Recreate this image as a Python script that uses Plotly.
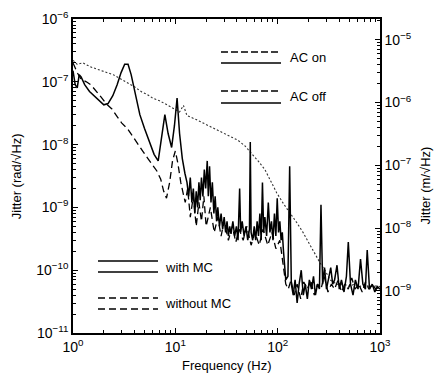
import plotly.graph_objects as go

# ---------------- data ----------------
# dotted curve (highest, smooth decline)
f_dot = [1.0, 1.1, 1.25, 1.47, 1.7, 2.0, 2.46, 2.9, 3.45, 4.0, 4.7, 5.3, 6.0, 7.0, 8.3, 9.5,
         11, 12, 13, 16, 20, 26, 33, 41, 48, 55, 65, 75, 86, 98, 115, 135, 155, 177, 200, 220,
         240, 260, 290, 325, 360, 400, 450, 500, 560, 630, 700, 800, 900, 1000]
j_dot = [2.2e-7, 1.9e-7, 2.0e-7, 1.74e-7, 1.6e-7, 1.45e-7, 1.3e-7, 1.12e-7, 9.5e-8, 8.3e-8, 6.9e-8,
         6.3e-8, 5.5e-8, 5.0e-8, 4.3e-8, 3.8e-8, 3.3e-8, 4.2e-8, 2.9e-8, 2.5e-8, 2.1e-8, 1.7e-8,
         1.4e-8, 1.17e-8, 9.5e-9, 7.4e-9, 5.4e-9, 4.0e-9, 2.6e-9, 1.7e-9, 1.12e-9, 7.9e-10, 5.6e-10,
         4.0e-10, 2.8e-10, 2.1e-10, 1.6e-10, 1.3e-10, 1.0e-10, 7e-11, 6.3e-11, 5.8e-11, 6e-11,
         5.5e-11, 6e-11, 5.5e-11, 5.8e-11, 5.5e-11, 5.6e-11, 5.5e-11]

# dashed curve
f_dash = [1.0, 1.1, 1.2, 1.35, 1.5, 1.7, 1.9, 2.1, 2.4, 2.7, 3.0, 3.4, 3.8, 4.3, 4.8, 5.4, 6.0,
          6.6, 7.2, 7.7, 8.2, 8.8, 9.4, 10.0, 10.6, 11.3, 12.0, 12.5, 13.2, 14, 15, 16, 17, 18,
          19, 20, 22, 24, 26, 28, 30, 33, 36, 39, 42, 46, 50, 55, 60, 66, 72, 80, 88, 96, 105,
          112, 120, 127, 135, 145, 155, 168, 180, 195, 210, 228, 245, 265, 285, 310, 335, 360,
          390, 420, 455, 490, 530, 570, 620, 670, 720, 780, 840, 910, 1000]
j_dash = [2.0e-7, 1.4e-7, 1.1e-7, 1.0e-7, 8.9e-8, 7.1e-8, 5.6e-8, 4.5e-8, 3.7e-8, 2.8e-8, 2.2e-8,
          1.8e-8, 1.4e-8, 1.05e-8, 7.9e-9, 6.0e-9, 4.8e-9, 3.8e-9, 2.8e-9, 1.8e-9, 1.4e-9, 2.5e-9,
          5.6e-9, 7.9e-9, 5.0e-9, 2.5e-9, 1.6e-9, 1.2e-9, 2.0e-9, 7e-10, 1.5e-9, 5e-10, 1.2e-9,
          6e-10, 1.5e-9, 5e-10, 1.0e-9, 4e-10, 7e-10, 3.5e-10, 6e-10, 3e-10, 5e-10, 2.8e-10,
          4.5e-10, 3e-10, 5e-10, 2.5e-10, 4e-10, 2.5e-10, 4.5e-10, 2.5e-10, 4e-10, 2.2e-10, 3e-10,
          1.5e-10, 6e-11, 5e-11, 7e-11, 4e-11, 6e-11, 3.5e-11, 6.5e-11, 5e-11, 7e-11, 4e-11,
          6e-11, 5e-11, 8e-11, 4.5e-11, 6e-11, 5e-11, 7e-11, 4.5e-11, 6e-11, 5e-11, 7.5e-11,
          5e-11, 6e-11, 4.5e-11, 6.5e-11, 5e-11, 6e-11, 5e-11, 5.5e-11]

# solid curve (with resonance peaks and noisy high-frequency part)
f_sol = [1.0, 1.05, 1.1, 1.15, 1.2, 1.3, 1.45, 1.6, 1.8, 2.0, 2.2, 2.45, 2.7, 2.95, 3.2, 3.45,
         3.7, 4.1, 4.5, 5.0, 5.6, 6.2, 6.8, 7.3, 7.9, 8.5, 9.2, 9.8, 10.4, 11.0, 11.7, 12.4,
         13, 13.5, 14, 14.5, 15, 15.5, 16, 16.5, 17, 17.5, 18, 18.6, 19.2, 19.8, 20.5, 21,
         21.6, 22.3, 23, 23.8, 24.5, 25.3, 26, 27, 28, 29, 30, 31, 32, 33, 34, 35, 36.5, 38,
         39.5, 41, 42.5, 43.5, 45, 47, 49, 51, 53, 54, 55, 57, 59, 61, 63, 65, 67, 69, 71, 73,
         75, 78, 81, 84, 87, 90, 93, 96, 99, 102, 105, 108, 111, 114, 117, 120, 126, 131, 136,
         142, 148, 155, 162, 170, 178, 186, 195, 204, 214, 224, 234, 245, 256, 265, 275, 287,
         300, 315, 330, 345, 360, 380, 400, 420, 445, 470, 490, 515, 545, 575, 610, 645, 680,
         720, 750, 790, 840, 890, 940, 1000]
j_sol = [1.5e-7, 9e-8, 8e-8, 1.3e-7, 1.2e-7, 9e-8, 7e-8, 6e-8, 5e-8, 4.3e-8, 4.5e-8, 6e-8,
         9e-8, 1.4e-7, 1.9e-7, 1.9e-7, 1.3e-7, 6e-8, 3e-8, 1.8e-8, 1.1e-8, 7e-9, 5.5e-9, 1.2e-8,
         3e-8, 1.5e-8, 9e-9, 2e-8, 5.5e-8, 1.5e-8, 6e-9, 3.5e-9,
         2.5e-9, 1.5e-9, 3e-9, 1.2e-9, 2e-9, 8e-10, 1.8e-9, 1.0e-9, 2.5e-9, 1.3e-9, 3e-9,
         1.5e-9, 4e-9, 2e-9, 5.5e-9, 1.5e-9, 4.5e-9, 1.2e-9, 2.5e-9, 8e-10, 1.5e-9, 6e-10,
         1.0e-9, 5e-10, 8e-10, 4.5e-10, 7e-10, 4e-10, 6e-10, 3.5e-10, 5e-10, 3.8e-10, 6e-10,
         3.5e-10, 5e-10, 3e-10, 2e-9, 4e-10, 6e-10, 3.5e-10, 5e-10, 3e-10, 4.5e-10, 1.1e-8,
         4e-10, 3e-10, 5e-10, 3e-10, 6e-10, 3.5e-10, 8e-10, 3e-10, 2.5e-9, 4e-10, 7e-10,
         3.5e-10, 1.2e-9, 4e-10, 6e-10, 3e-10, 8e-10, 3.5e-10, 1.4e-9, 4e-10, 6e-10, 3e-10,
         4e-10, 2e-10, 1.2e-10, 7e-11, 8e-11, 4.5e-9, 6e-11, 4e-11, 7e-11, 3e-11, 6e-11,
         1e-10, 4e-11, 6e-11, 3.5e-11, 7e-11, 5e-11, 8e-11, 4e-11, 6e-11, 5e-11, 1.1e-9,
         6e-11, 1.1e-10, 5e-11, 8e-11, 1.1e-10, 6e-11, 7e-11, 1.2e-10, 5e-11, 7e-11, 4.5e-11,
         8e-11, 2.8e-10, 6e-11, 4e-11, 7e-11, 5e-11, 1.5e-10, 6e-11, 5e-11, 2.1e-10, 5e-11,
         6e-11, 4.5e-11, 5.5e-11, 5e-11]

M_PER_RAD = 21.4

# axis ticks
x_tickvals = [1, 10, 100, 1000]
x_ticktext = ["10<sup>0</sup>", "10<sup>1</sup>", "10<sup>2</sup>", "10<sup>3</sup>"]
y_tickvals = [1e-11, 1e-10, 1e-9, 1e-8, 1e-7, 1e-6]
y_ticktext = ["10<sup>−11</sup>", "10<sup>−10</sup>", "10<sup>−9</sup>",
              "10<sup>−8</sup>", "10<sup>−7</sup>", "10<sup>−6</sup>"]
y2_tickvals = [1e-9, 1e-8, 1e-7, 1e-6, 1e-5]
y2_ticktext = ["10<sup>−9</sup>", "10<sup>−8</sup>", "10<sup>−7</sup>",
               "10<sup>−6</sup>", "10<sup>−5</sup>"]


def minor_vals(lo_exp, hi_exp):
    return [m * 10.0 ** e for e in range(lo_exp, hi_exp) for m in range(2, 10)]


FONT = "Liberation Sans, Arial, sans-serif"

fig = go.Figure()
fig.add_trace(go.Scatter(x=f_dot, y=j_dot, mode="lines",
                         line=dict(color="#333333", width=1.1, dash="2px,2px")))
fig.add_trace(go.Scatter(x=f_dash, y=j_dash, mode="lines",
                         line=dict(color="black", width=1.3, dash="7px,4px")))
fig.add_trace(go.Scatter(x=f_sol, y=j_sol, mode="lines",
                         line=dict(color="black", width=1.5)))
# same solid curve in linear units on the right axis (invisible, it only carries the axis)
fig.add_trace(go.Scatter(x=f_sol, y=[v * M_PER_RAD for v in j_sol], mode="lines",
                         yaxis="y2", opacity=0, hoverinfo="skip",
                         line=dict(color="black", width=1)))

axis_common = dict(type="log", showgrid=False, zeroline=False, showline=True,
                   linecolor="black", linewidth=1.5, ticks="inside", ticklen=5,
                   tickcolor="black", automargin=False,
                   tickfont=dict(family=FONT, size=14, color="black"))
minor_common = dict(ticks="inside", ticklen=3, tickcolor="black", showgrid=False)

fig.update_layout(
    width=438, height=380,
    margin=dict(l=73, r=58, t=19, b=47),
    paper_bgcolor="white", plot_bgcolor="white",
    showlegend=False,
    xaxis=dict(axis_common, range=[0, 3], tickvals=x_tickvals, ticktext=x_ticktext,
               mirror="ticks", minor=dict(minor_common, tickvals=minor_vals(0, 3))),
    yaxis=dict(axis_common, range=[-11, -6], tickvals=y_tickvals, ticktext=y_ticktext,
               minor=dict(minor_common, tickvals=minor_vals(-11, -6))),
    yaxis2=dict(axis_common, range=[-9.67, -4.67], tickvals=y2_tickvals,
                ticktext=y2_ticktext, overlaying="y", side="right", anchor="x",
                minor=dict(minor_common, tickvals=minor_vals(-10, -4))),
)

# axis titles
ann = dict(showarrow=False, font=dict(family=FONT, size=13, color="black"),
           xref="paper", yref="paper")
fig.add_annotation(ann, text="Frequency (Hz)", x=0.50, y=-0.105, xanchor="center", yanchor="middle")
fig.add_annotation(ann, text="Jitter (rad/√Hz)", x=-0.185, y=0.50, textangle=-90,
                   xanchor="center", yanchor="middle")
fig.add_annotation(ann, text="Jitter (m/√Hz)", x=1.147, y=0.47, textangle=-90,
                   xanchor="center", yanchor="middle")

# legend-like keys (decorations)
def px(xp):
    return (xp - 73) / 307


def py(yp):
    return (333 - yp) / 314


keys = [
    (221, 281, 52, "7px,3px"), (221, 281, 63, "solid"),
    (221, 281, 91, "7px,3px"), (221, 281, 103, "solid"),
    (98, 158, 261, "solid"), (98, 158, 272, "solid"),
    (98, 158, 298, "7px,4px"), (98, 158, 309, "7px,4px"),
]
for x0, x1, yy, d in keys:
    fig.add_shape(type="line", xref="paper", yref="paper", x0=px(x0), x1=px(x1),
                  y0=py(yy), y1=py(yy), line=dict(color="black", width=1.4, dash=d))
labels = [("AC on", 288, 58), ("AC off", 288, 97), ("with MC", 163, 267), ("without MC", 163, 303)]
for t, xx, yy in labels:
    fig.add_annotation(ann, text=t, x=px(xx), y=py(yy), xanchor="left", yanchor="middle")

fig.write_html(
    "out.html",
    config={"displayModeBar": False},
    post_script="document.body.style.margin='0';document.body.style.overflow='hidden';",
)
